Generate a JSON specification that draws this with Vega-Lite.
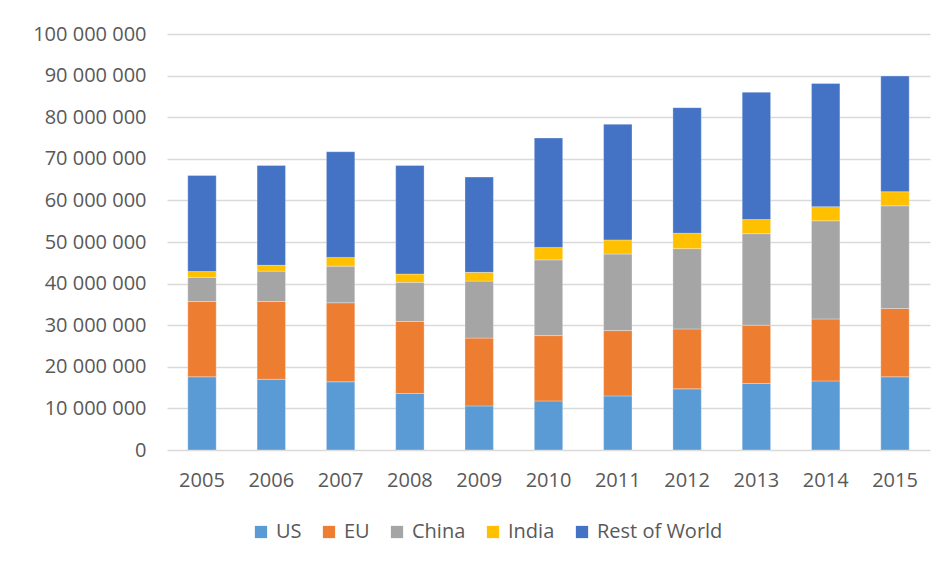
{
  "$schema": "https://vega.github.io/schema/vega-lite/v6.json",
  "autosize": "none",
  "width": 763,
  "height": 416,
  "padding": {"left": 167, "top": 34, "right": 19, "bottom": 119},
  "background": "white",
  "config": {
    "view": {"stroke": null},
    "font": "Open Sans",
    "locale": {"number": {"decimal": ",", "thousands": " ", "grouping": [3], "currency": ["", ""]}}
  },
  "data": {"values": [
    {"year": "2005", "region": "US", "k": 1, "value": 17600000},
    {"year": "2006", "region": "US", "k": 1, "value": 17000000},
    {"year": "2007", "region": "US", "k": 1, "value": 16400000},
    {"year": "2008", "region": "US", "k": 1, "value": 13600000},
    {"year": "2009", "region": "US", "k": 1, "value": 10600000},
    {"year": "2010", "region": "US", "k": 1, "value": 11800000},
    {"year": "2011", "region": "US", "k": 1, "value": 13000000},
    {"year": "2012", "region": "US", "k": 1, "value": 14700000},
    {"year": "2013", "region": "US", "k": 1, "value": 16000000},
    {"year": "2014", "region": "US", "k": 1, "value": 16600000},
    {"year": "2015", "region": "US", "k": 1, "value": 17600000},
    {"year": "2005", "region": "EU", "k": 2, "value": 18100000},
    {"year": "2006", "region": "EU", "k": 2, "value": 18700000},
    {"year": "2007", "region": "EU", "k": 2, "value": 19000000},
    {"year": "2008", "region": "EU", "k": 2, "value": 17300000},
    {"year": "2009", "region": "EU", "k": 2, "value": 16300000},
    {"year": "2010", "region": "EU", "k": 2, "value": 15700000},
    {"year": "2011", "region": "EU", "k": 2, "value": 15700000},
    {"year": "2012", "region": "EU", "k": 2, "value": 14400000},
    {"year": "2013", "region": "EU", "k": 2, "value": 14000000},
    {"year": "2014", "region": "EU", "k": 2, "value": 14900000},
    {"year": "2015", "region": "EU", "k": 2, "value": 16400000},
    {"year": "2005", "region": "China", "k": 3, "value": 5800000},
    {"year": "2006", "region": "China", "k": 3, "value": 7300000},
    {"year": "2007", "region": "China", "k": 3, "value": 8800000},
    {"year": "2008", "region": "China", "k": 3, "value": 9400000},
    {"year": "2009", "region": "China", "k": 3, "value": 13700000},
    {"year": "2010", "region": "China", "k": 3, "value": 18200000},
    {"year": "2011", "region": "China", "k": 3, "value": 18400000},
    {"year": "2012", "region": "China", "k": 3, "value": 19300000},
    {"year": "2013", "region": "China", "k": 3, "value": 22000000},
    {"year": "2014", "region": "China", "k": 3, "value": 23600000},
    {"year": "2015", "region": "China", "k": 3, "value": 24700000},
    {"year": "2005", "region": "India", "k": 4, "value": 1400000},
    {"year": "2006", "region": "India", "k": 4, "value": 1400000},
    {"year": "2007", "region": "India", "k": 4, "value": 2100000},
    {"year": "2008", "region": "India", "k": 4, "value": 2000000},
    {"year": "2009", "region": "India", "k": 4, "value": 2100000},
    {"year": "2010", "region": "India", "k": 4, "value": 3000000},
    {"year": "2011", "region": "India", "k": 4, "value": 3400000},
    {"year": "2012", "region": "India", "k": 4, "value": 3700000},
    {"year": "2013", "region": "India", "k": 4, "value": 3400000},
    {"year": "2014", "region": "India", "k": 4, "value": 3400000},
    {"year": "2015", "region": "India", "k": 4, "value": 3400000},
    {"year": "2005", "region": "Rest of World", "k": 5, "value": 23100000},
    {"year": "2006", "region": "Rest of World", "k": 5, "value": 24000000},
    {"year": "2007", "region": "Rest of World", "k": 5, "value": 25400000},
    {"year": "2008", "region": "Rest of World", "k": 5, "value": 26100000},
    {"year": "2009", "region": "Rest of World", "k": 5, "value": 22900000},
    {"year": "2010", "region": "Rest of World", "k": 5, "value": 26300000},
    {"year": "2011", "region": "Rest of World", "k": 5, "value": 27800000},
    {"year": "2012", "region": "Rest of World", "k": 5, "value": 30200000},
    {"year": "2013", "region": "Rest of World", "k": 5, "value": 30600000},
    {"year": "2014", "region": "Rest of World", "k": 5, "value": 29600000},
    {"year": "2015", "region": "Rest of World", "k": 5, "value": 27800000}
  ]},
  "mark": {"type": "bar", "stroke": "white", "strokeWidth": 0.5, "strokeOpacity": 0.6},
  "encoding": {
    "x": {
      "field": "year", "type": "ordinal",
      "scale": {"paddingInner": 0.59, "paddingOuter": 0.3},
      "axis": {"title": null, "labelAngle": 0, "ticks": false, "domain": false,
               "labelFontSize": 20, "labelColor": "#595959", "labelPadding": 20, "labelFont": "Open Sans"}
    },
    "y": {
      "field": "value", "type": "quantitative", "stack": "zero",
      "scale": {"domain": [0, 100000000], "nice": false},
      "axis": {"title": null, "values": [0,10000000,20000000,30000000,40000000,50000000,60000000,70000000,80000000,90000000,100000000],
               "format": ",d", "ticks": false, "domain": false, "labelOverlap": false,
               "grid": true, "gridColor": "#d9d9d9", "gridWidth": 1.5,
               "labelFontSize": 20, "labelColor": "#595959", "labelPadding": 21, "labelFont": "Open Sans"}
    },
    "color": {
      "field": "region", "type": "nominal",
      "sort": ["US", "EU", "China", "India", "Rest of World"],
      "scale": {"domain": ["US", "EU", "China", "India", "Rest of World"],
                "range": ["#5B9BD5", "#ED7D31", "#A5A5A5", "#FFC000", "#4472C4"]},
      "legend": {"title": null, "orient": "none", "direction": "horizontal",
                 "legendX": 84, "legendY": 488, "symbolType": "square", "symbolSize": 150,
                 "symbolStrokeWidth": 0, "labelFontSize": 20, "labelColor": "#595959",
                 "labelOffset": 5, "columnPadding": 17, "labelFont": "Open Sans"}
    },
    "order": {"field": "k", "type": "quantitative", "sort": "ascending"}
  }
}
